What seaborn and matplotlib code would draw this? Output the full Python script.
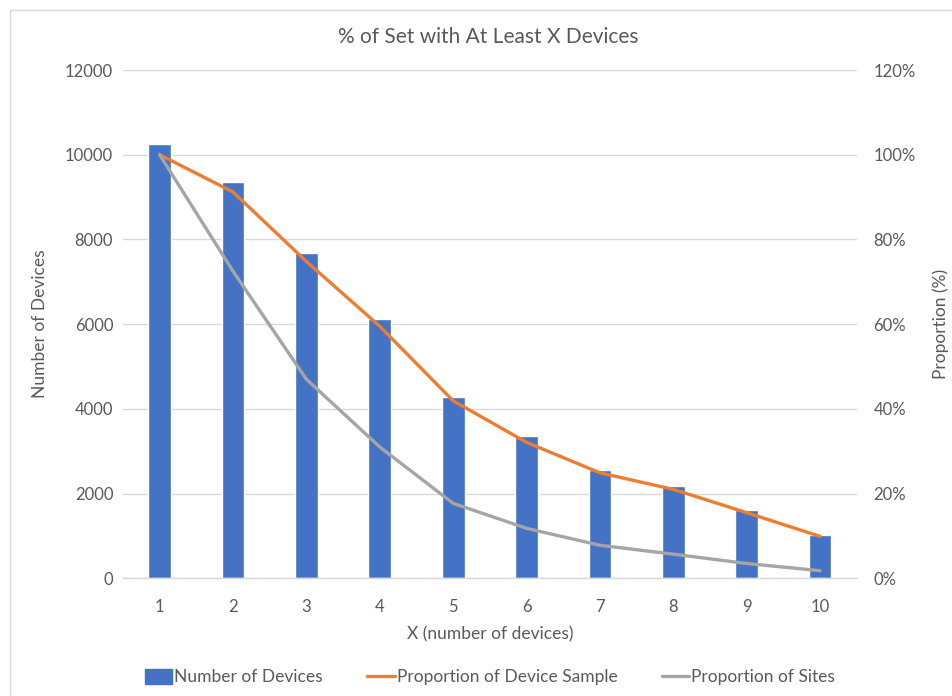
import numpy as np
import pandas as pd
import matplotlib
matplotlib.use("Agg")
import matplotlib.pyplot as plt
import matplotlib.patches as mpatches
import matplotlib.lines as mlines
from matplotlib.ticker import FuncFormatter, MultipleLocator
import seaborn as sns

# Data
x_labels = ["1", "2", "3", "4", "5", "6", "7", "8", "9", "10"]
num_devices = [10245, 9350, 7670, 6130, 4280, 3355, 2560, 2180, 1605, 1020]
prop_device_sample = [1.000, 0.912, 0.748, 0.595, 0.419, 0.321, 0.249, 0.210, 0.155, 0.099]
prop_sites = [1.000, 0.725, 0.470, 0.310, 0.177, 0.118, 0.078, 0.057, 0.035, 0.018]

BLUE = "#4472C4"
ORANGE = "#ED7D31"
GRAY = "#A5A5A5"
TEXT = "#595959"
GRID = "#D9D9D9"

sns.set_theme(style="white")
plt.rcParams["font.family"] = ["Lato", "DejaVu Sans"]

df = pd.DataFrame({
    "x": x_labels,
    "pos": np.arange(len(x_labels)),
    "devices": num_devices,
    "sample": prop_device_sample,
    "sites": prop_sites,
})

fig = plt.figure(figsize=(9.53, 6.96), dpi=100)
ax = fig.add_axes([0.129, 0.1691, 0.770, 0.7303])

sns.barplot(data=df, x="x", y="devices", color=BLUE, width=0.31,
            saturation=1, ax=ax, zorder=2)
ax.set_xlim(-0.5, len(x_labels) - 0.5)
ax.set_ylim(0, 12000)
ax.yaxis.set_major_locator(MultipleLocator(2000))
ax.grid(axis="y", color=GRID, linewidth=1.0, zorder=0)
ax.set_axisbelow(True)
for s in ["top", "right", "left"]:
    ax.spines[s].set_visible(False)
ax.spines["bottom"].set_color(GRID)
ax.spines["bottom"].set_linewidth(1.0)
ax.tick_params(axis="both", length=0, colors=TEXT, labelsize=12)
ax.tick_params(axis="x", pad=15)
ax.tick_params(axis="y", pad=7)
ax.set_xlabel("X (number of devices)", color=TEXT, fontsize=12.5, labelpad=8)
ax.set_ylabel("Number of Devices", color=TEXT, fontsize=12.5, labelpad=12)

ax2 = ax.twinx()
sns.lineplot(data=df, x="pos", y="sample", color=ORANGE, linewidth=2.4,
             ax=ax2, zorder=3)
sns.lineplot(data=df, x="pos", y="sites", color=GRAY, linewidth=2.4,
             ax=ax2, zorder=3)
ax2.set_xlim(-0.5, len(x_labels) - 0.5)
ax2.set_ylim(0, 1.2)
ax2.yaxis.set_major_locator(MultipleLocator(0.2))
ax2.yaxis.set_major_formatter(FuncFormatter(lambda v, _: f"{v*100:.0f}%"))
for s in ["top", "right", "left", "bottom"]:
    ax2.spines[s].set_visible(False)
ax2.grid(False)
ax2.tick_params(axis="y", length=0, colors=TEXT, labelsize=12, pad=12)
ax2.set_ylabel("Proportion (%)", color=TEXT, fontsize=12.5, labelpad=12)
ax2.set_xlabel("")

fig.text(0.5125, 0.947, "% of Set with At Least X Devices", ha="center",
         va="center", color=TEXT, fontsize=15)

handles = [
    mpatches.Patch(color=BLUE, label="Number of Devices"),
    mlines.Line2D([], [], color=ORANGE, linewidth=2.4, label="Proportion of Device Sample"),
    mlines.Line2D([], [], color=GRAY, linewidth=2.4, label="Proportion of Sites"),
]
fig.legend(handles=handles, loc="center", bbox_to_anchor=(0.514, 0.027), ncol=3,
           frameon=False, fontsize=12.5, labelcolor=TEXT, handlelength=1.6,
           handletextpad=0.1, columnspacing=2.55, handleheight=0.9)

# Chart border
fig.add_artist(mpatches.Rectangle((0.011, -0.01), 1.0, 0.996,
                                  transform=fig.transFigure, fill=False,
                                  edgecolor=GRID, linewidth=1.0))

fig.savefig("out.png", dpi=100, facecolor="white")
